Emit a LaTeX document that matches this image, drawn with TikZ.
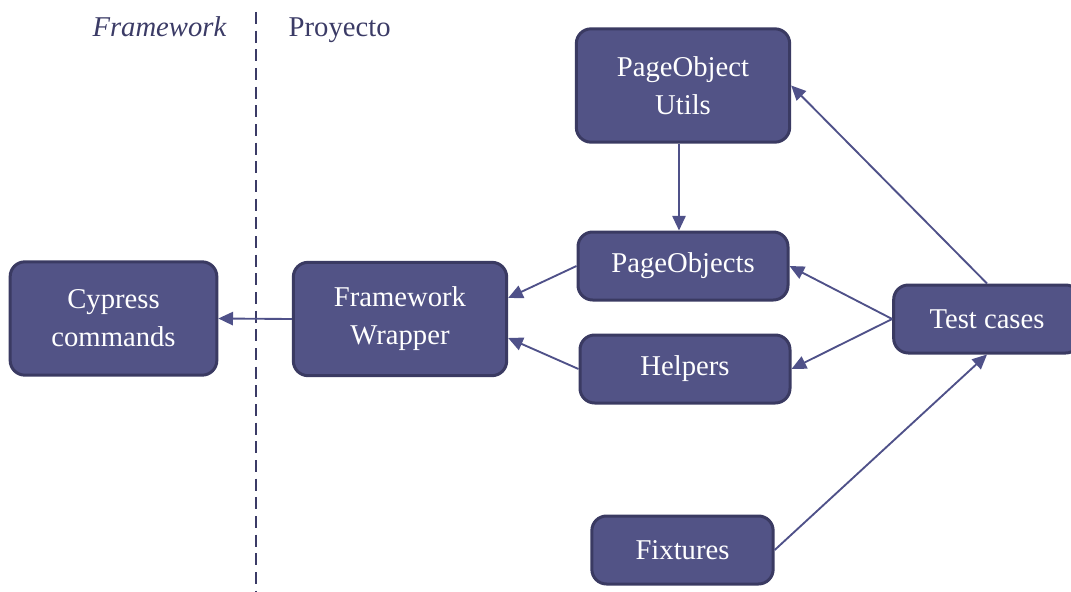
\documentclass[tikz,border=0pt]{standalone}
\usepackage{fontspec}
\setmainfont{Liberation Serif}
\usetikzlibrary{arrows.meta,calc}
\definecolor{boxfill}{HTML}{525386}
\definecolor{boxline}{HTML}{3A3A62}
\definecolor{arrowcol}{HTML}{4F5189}
\definecolor{headcol}{HTML}{3B3B66}

\begin{document}
\begin{tikzpicture}[x=0.75pt,y=-0.75pt,>={Triangle[length=11pt,width=10pt]},
  box/.style={draw=boxline,fill=boxfill,line width=2.25pt,rounded corners=11pt,
    text=white,align=center,inner sep=0pt,font=\fontsize{21.5}{28.5}\selectfont},
  bigbox/.style={box,minimum width=160pt,minimum height=85pt},
  smallbox/.style={box,minimum width=157.5pt,minimum height=51pt},
  head/.style={text=headcol,font=\fontsize{21.5}{26}\selectfont},
  link/.style={->,draw=arrowcol,line width=1.4pt}]
\useasboundingbox (0,0) rectangle (1071,592);

% Header
\node[head,font=\fontsize{21.5}{26}\selectfont\itshape,anchor=base east] (fw) at (231,37) {Framework};
\node[head,anchor=base west] (proy) at (284,37) {Proyecto};
\coordinate (sepTop) at (256,12);
\coordinate (sepBot) at (256,592);
\draw[headcol,line width=1.3pt,dash pattern=on 9pt off 5pt] (sepTop) -- (sepBot);

% Boxes
\node[bigbox,minimum width=155pt] (cyp) at (113.5,318.5) {Cypress\\commands};
\node[bigbox] (wrap) at (400,319) {Framework\\Wrapper};
\node[bigbox] (pou) at (683,85.5) {PageObject\\Utils};
\node[smallbox] (po) at (683,266) {PageObjects};
\node[smallbox] (hlp) at (685,369) {Helpers};
\node[smallbox,minimum width=140pt] (tc) at (987,319) {Test cases};
\node[smallbox,minimum width=136pt] (fix) at (682.5,550) {Fixtures};

% Connectors
\draw[link] (wrap.west) -- (cyp.east);
\draw[link] ([xshift=-3pt]pou.south) -- ([xshift=-3pt]po.north);
\draw[link] (po.west) -- ($(wrap.east)+(0,-21)$);
\draw[link] (hlp.west) -- ($(wrap.east)+(0,19)$);
\draw[link] (tc.west) -- (po.east);
\draw[link] (tc.west) -- (hlp.east);
\draw[link] (tc.north) -- (pou.east);
\draw[link] (fix.east) -- (tc.south);

\end{tikzpicture}
\end{document}
